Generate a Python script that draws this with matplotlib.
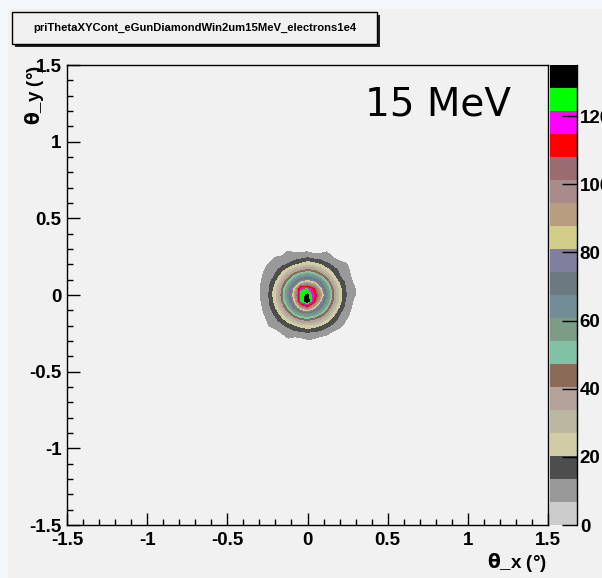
import numpy as np
import matplotlib
matplotlib.use('Agg')
import matplotlib.pyplot as plt
from matplotlib.colors import ListedColormap, BoundaryNorm
from matplotlib.cm import ScalarMappable
from matplotlib.patches import Rectangle
from matplotlib.ticker import MultipleLocator

plt.rcParams['font.family'] = ['Liberation Sans', 'DejaVu Sans']
plt.rcParams['font.weight'] = 'bold'

W, H = 602, 578
canvas_grey = '#f1f1f1'

# bin centres (deg), 0.04 deg bins around the beam axis
theta_x = np.arange(-8, 9) * 0.04
theta_y = np.arange(8, -9, -1) * 0.04

# counts per bin, first row = top (theta_y = +0.32)
counts = np.array([
    [0, 0, 0, 0, 0, 0, 1, 3, 2, 2, 1, 0, 0, 0, 0, 0, 0],
    [0, 0, 0, 1, 3, 8, 6, 6.5, 7, 5, 5.5, 7, 2.5, 1, 0, 0, 0],
    [0, 0, 1, 8, 9, 8.5, 11, 12, 14, 12, 11, 9, 7, 5, 1, 0, 0],
    [0, 1, 8, 10, 12, 14, 18, 22, 25, 23, 20, 15, 12, 9, 8, 1, 0],
    [0, 6, 9, 12, 17, 25, 34, 40, 43, 41, 32, 24, 17, 12, 10, 4, 0],
    [1, 7, 9, 15, 25, 38, 51, 60, 64, 61, 50, 37, 23, 14, 9, 6, 1],
    [3, 8, 12, 20, 34, 51, 69, 84, 90, 84, 70, 51, 33, 19, 12, 7, 2],
    [2, 9, 13, 24, 41, 61, 84, 120, 122, 110, 84, 61, 40, 23, 13, 9, 4],
    [4, 8, 14, 25, 43, 64, 89, 125, 130, 116, 95, 64, 42, 24, 14, 8, 5],
    [3, 8, 13, 23, 41, 60, 83, 123, 134, 113, 82, 60, 40, 23, 12, 7, 2],
    [1, 7, 12, 20, 34, 50, 70, 92, 104, 86, 68, 50, 33, 19, 11, 6, 1],
    [1, 6, 10, 15, 25, 38, 51, 61, 65, 60, 50, 38, 24, 14, 9, 5, 1],
    [0, 3, 9, 12, 17, 25, 33, 41, 43, 40, 34, 25, 16, 12, 7, 3, 0],
    [0, 1, 7, 10, 12, 15, 19, 23, 25, 24, 20, 15, 12, 9, 4, 1, 0],
    [0, 0, 1, 4, 8, 10, 12, 13, 14, 13, 12, 10, 6, 3, 1, 0, 0],
    [0, 0, 0, 1, 3, 7, 5.5, 6.5, 8, 7.5, 5, 4, 2, 1, 0, 0, 0],
    [0, 0, 0, 0, 0, 1, 2, 2, 3, 2, 1, 0, 0, 0, 0, 0, 0],
])

levels = np.linspace(0, 135, 21)
palette = ['#cccccc', '#999999', '#4d4d4d', '#d1cba6', '#bbb8a2', '#b5a29a',
           '#8b6a58', '#82c2a4', '#7c9c88', '#738d97', '#6a7a80', '#7f7f9d',
           '#d3cd8a', '#b99d80', '#a98b8c', '#9a6b70', '#ff0000', '#ff00ff',
           '#00ff00', '#000000']

fig = plt.figure(figsize=(W / 100, H / 100), dpi=100)
fig.patch.set_facecolor('#f4f8fb')
fig.add_artist(Rectangle((8 / W, 0), 1, 1 - 9 / H, transform=fig.transFigure,
                         facecolor=canvas_grey, edgecolor='none', zorder=-5))

# title pave with shadow
fig.add_artist(Rectangle((15 / W, 1 - 47 / H), 365 / W, 32 / H, transform=fig.transFigure,
                         facecolor='#202020', edgecolor='none', zorder=1))
fig.add_artist(Rectangle((12 / W, 1 - 44 / H), 365 / W, 32 / H, transform=fig.transFigure,
                         facecolor=canvas_grey, edgecolor='black', lw=1, zorder=2))
fig.text(194.5 / W, 1 - 28 / H, 'priThetaXYCont_eGunDiamondWin2um15MeV_electrons1e4',
         ha='center', va='center', fontsize=8.1, zorder=3)

ax = fig.add_axes([67 / W, 1 - 525 / H, 481 / W, 460 / H])
ax.set_facecolor(canvas_grey)
ax.contourf(theta_x, theta_y[::-1], counts[::-1], levels=levels[1:], colors=palette[1:])
ax.set_xlim(-1.5, 1.5)
ax.set_ylim(-1.5, 1.5)
ax.xaxis.set_major_locator(MultipleLocator(0.5))
ax.yaxis.set_major_locator(MultipleLocator(0.5))
ax.xaxis.set_minor_locator(MultipleLocator(0.1))
ax.yaxis.set_minor_locator(MultipleLocator(0.1))
ax.tick_params(which='both', direction='in', top=False, right=False, labelsize=13.5)
ax.tick_params(which='major', length=9, width=1)
ax.tick_params(which='minor', length=4.5, width=1)
ax.tick_params(axis='x', pad=5)
ax.tick_params(axis='y', pad=4)
ax.xaxis.set_major_formatter(lambda v, p: '%g' % v)
ax.yaxis.set_major_formatter(lambda v, p: '%g' % v)
for s in ax.spines.values():
    s.set_linewidth(1)

fig.text(438 / W, 1 - 105 / H, '15 MeV', ha='center', va='center', fontsize=28,
         fontweight='normal', family='DejaVu Sans', zorder=4)

fig.text(547 / W, 1 - 562 / H, r'$\mathrm{\theta}$_x (°)', ha='right', va='center', fontsize=13.5)
fig.text(35 / W, 1 - 65 / H, r'$\mathrm{\theta}$_y (°)', ha='center', va='top',
         rotation=90, fontsize=13.5)

# palette
cax = fig.add_axes([550 / W, 1 - 525 / H, 27 / W, 460 / H])
sm = ScalarMappable(norm=BoundaryNorm(levels, len(palette)), cmap=ListedColormap(palette))
cb = fig.colorbar(sm, cax=cax, ticks=np.arange(0, 140, 20))
cb.outline.set_visible(False)
cb.minorticks_off()
cax.tick_params(direction='in', length=11, width=1, labelsize=13.5, pad=2)
cax.plot([1, 1], [0, 1], transform=cax.transAxes, color='black', lw=1, clip_on=False)

fig.savefig('out.png', dpi=100, facecolor=fig.get_facecolor())
